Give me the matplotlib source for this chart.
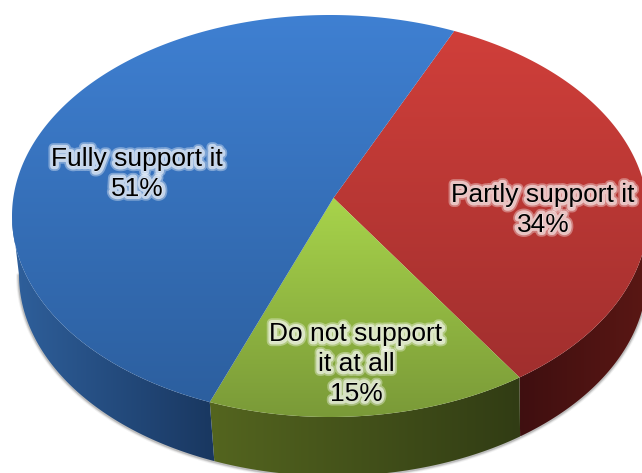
import numpy as np
import matplotlib
matplotlib.use("Agg")
import matplotlib.pyplot as plt
import matplotlib.patheffects as pe
from matplotlib.colors import LinearSegmentedColormap
from matplotlib.patches import Polygon

# Slices run clockwise from the red/blue boundary
categories = ["Partly support it", "Do not support\nit at all", "Fully support it"]
shares = [34, 15, 51]

top_colors = [("#d03f3a", "#a12f2e"), ("#a8d44b", "#7a9a38"), ("#3f80d2", "#2c5f9f")]
side_colors = [("#3f0f10", "#5a1714"), ("#54651f", "#313c14"), ("#2f609c", "#193760")]
label_centers = [(543, 210), (356, 364), (137, 174)]

START_DEG = 24.5             # clockwise from the back of the disc
TILT_X, TILT_Y = 0.011, 0.09 # perspective shift of the disc centre
CX, CY, RX, RY = 330, 216, 318, 201
LOW_CX, LOW_CY, LOW_RX = 333, 275, 314   # rim of the underside


def project(theta):
    """Map clockwise disc angles to normalised ellipse coordinates."""
    u, v = np.sin(theta), np.cos(theta)
    norm2 = TILT_X ** 2 + TILT_Y ** 2
    dot = u * TILT_X + v * TILT_Y
    k = np.sqrt(1 - norm2)
    denom = 1 + dot
    par = dot / norm2
    return ((TILT_X + par * TILT_X + k * (u - par * TILT_X)) / denom,
            (TILT_Y + par * TILT_Y + k * (v - par * TILT_Y)) / denom)


def to_top(X, Y):
    return CX + RX * X, CY - RY * Y


def to_low(X, Y):
    return LOW_CX + LOW_RX * X, LOW_CY - RY * Y


def gradient_fill(ax, pts, colors, horizontal, zorder):
    cmap = LinearSegmentedColormap.from_list("fill", colors)
    patch = Polygon(pts, closed=True, fc="none", ec="none", zorder=zorder)
    ax.add_patch(patch)
    x0, y0 = pts.min(axis=0)
    x1, y1 = pts.max(axis=0)
    ramp = np.linspace(0, 1, 256)
    ramp = ramp[None, :] if horizontal else ramp[:, None]
    img = ax.imshow(ramp, cmap=cmap, vmin=0, vmax=1, aspect="auto",
                    extent=(x0, x1, y1, y0), origin="upper", zorder=zorder,
                    interpolation="bilinear")
    img.set_clip_path(patch)


fig = plt.figure(figsize=(6.42, 4.73), dpi=100)
ax = fig.add_axes([0, 0, 1, 1])
ax.axis("off")

edges = np.deg2rad(START_DEG + np.concatenate(([0], np.cumsum(shares))) * 3.6)

# Soft shadow hugging the lower rim
t = np.linspace(np.pi, 2 * np.pi, 400)
sx, sy = to_low(np.cos(t), np.sin(t))
for lw, alpha in [(4.3, 0.08), (2.9, 0.14), (1.8, 0.22)]:
    ax.plot(sx, sy + 0.5, color="#555555", lw=lw, alpha=alpha, zorder=1,
            solid_capstyle="round")

# Rim of each slice, only where it faces the viewer
for a, b, cols in zip(edges[:-1], edges[1:], side_colors):
    PX, PY = project(np.linspace(a, b, 400))
    keep = PY <= 0
    PX, PY = PX[keep], PY[keep]
    tx, ty = to_top(PX, PY)
    lx, ly = to_low(PX, PY)
    pts = np.column_stack((np.r_[tx, lx[::-1]], np.r_[ty, ly[::-1]]))
    gradient_fill(ax, pts, cols, True, 2)

# Top face of each slice
cx0, cy0 = to_top(TILT_X, TILT_Y)
for a, b, cols in zip(edges[:-1], edges[1:], top_colors):
    tx, ty = to_top(*project(np.linspace(a, b, 500)))
    pts = np.column_stack((np.r_[cx0, tx], np.r_[cy0, ty]))
    gradient_fill(ax, pts, cols, False, 3)

# Category and share labels: pale glow first, crisp text on top
for name, share, (lx, ly) in zip(categories, shares, label_centers):
    label = f"{name}\n{share}%"
    font = dict(ha="center", va="center", fontsize=19, family="Liberation Sans",
                linespacing=1.3)
    ax.text(lx, ly, label, color="white", alpha=0.0, zorder=4, **font,
            path_effects=[pe.Stroke(linewidth=7, foreground="white", alpha=0.35),
                          pe.Stroke(linewidth=4.5, foreground="white", alpha=0.55)])
    ax.text(lx, ly, label, color="black", zorder=5, **font)

ax.set_xlim(0, 642)
ax.set_ylim(473, 0)
fig.savefig("out.png", dpi=100, facecolor="white")
